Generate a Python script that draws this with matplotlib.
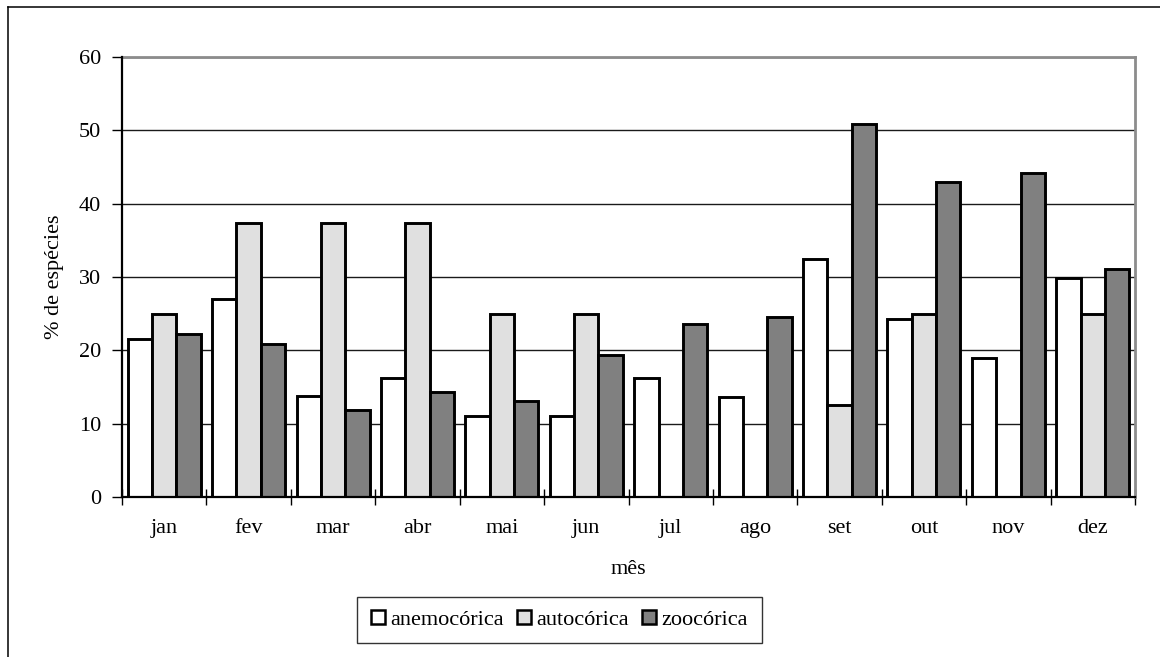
import matplotlib
matplotlib.use("Agg")
import matplotlib.pyplot as plt
from matplotlib.lines import Line2D
import numpy as np

months = ["jan", "fev", "mar", "abr", "mai", "jun", "jul", "ago", "set", "out", "nov", "dez"]
anemocorica = [21.6, 27.0, 13.8, 16.2, 11.0, 11.0, 16.2, 13.7, 32.4, 24.3, 18.9, 29.8]
autocorica = [25.0, 37.4, 37.4, 37.4, 25.0, 25.0, 0.0, 0.0, 12.5, 25.0, 0.0, 25.0]
zoocorica = [22.2, 20.8, 11.9, 14.3, 13.1, 19.4, 23.6, 24.6, 50.8, 43.0, 44.2, 31.1]
series_names = ["anemocórica", "autocórica", "zoocórica"]
yticks = [0, 10, 20, 30, 40, 50, 60]

plt.rcParams['font.family'] = ['Liberation Serif', 'DejaVu Serif']
FS = 16

W, H = 1160, 657
fig = plt.figure(figsize=(W / 100, H / 100), dpi=100)
ax = fig.add_axes([122 / W, 1 - 497 / H, (1135 - 122) / W, (497 - 57) / H])

x = np.arange(len(months))
bw = 0.288
colors = ["#ffffff", "#e0e0e0", "#808080"]
for i, (vals, name) in enumerate(zip([anemocorica, autocorica, zoocorica], series_names)):
    ax.bar(x + (i - 1) * bw, vals, width=bw, color=colors[i], edgecolor="black",
           linewidth=2.1, label=name, zorder=3)

ax.set_xlim(-0.5, len(months) - 0.5)
ax.set_ylim(0, 60)
ax.set_yticks(yticks)
ax.yaxis.grid(True, color="#1a1a1a", linewidth=1.0, zorder=1)
ax.set_axisbelow(True)

# category boundary ticks (major) and centred labels (minor)
ax.set_xticks(np.arange(-0.5, len(months), 1.0))
ax.set_xticklabels([])
ax.set_xticks(x, minor=True)
ax.set_xticklabels(months, minor=True, fontsize=FS)
ax.tick_params(axis="x", which="major", direction="inout", length=11, width=1.0, color="black")
ax.tick_params(axis="x", which="minor", length=0, pad=16)
ax.tick_params(axis="y", direction="out", length=7, width=1.0, pad=8, labelsize=FS)

for s in ["left", "bottom"]:
    ax.spines[s].set_color("black")
    ax.spines[s].set_linewidth(1.6)
    ax.spines[s].set_zorder(4)
for s in ["top", "right"]:
    ax.spines[s].set_color("#8c8c8c")
    ax.spines[s].set_linewidth(2.0)

ax.set_xlabel("mês", fontsize=FS)
ax.xaxis.set_label_coords(0.5, (497 - 570) / 440)
ax.xaxis.label.set_va("center")
ax.set_ylabel("% de espécies", fontsize=FS)
ax.yaxis.set_label_coords((55 - 122) / 1013, 0.5)
ax.yaxis.label.set_va("center")

leg = fig.legend(loc="center", bbox_to_anchor=(559.5 / W, 1 - 620 / H), ncol=3,
                 fontsize=FS, frameon=True, fancybox=False, edgecolor="black",
                 handlelength=0.62, handleheight=0.62, handletextpad=0.25,
                 columnspacing=0.6, borderpad=0.6, borderaxespad=0)
leg.get_frame().set_linewidth(1.0)
for h in leg.legend_handles:
    h.set_linewidth(1.8)

# outer chart-area border (left and top visible)
fig.add_artist(Line2D([8 / W, 8 / W], [0, 1 - 7 / H], transform=fig.transFigure,
                      color="black", linewidth=1.1))
fig.add_artist(Line2D([8 / W, 1], [1 - 7 / H, 1 - 7 / H], transform=fig.transFigure,
                      color="black", linewidth=1.1))

fig.savefig("out.png", dpi=100)
